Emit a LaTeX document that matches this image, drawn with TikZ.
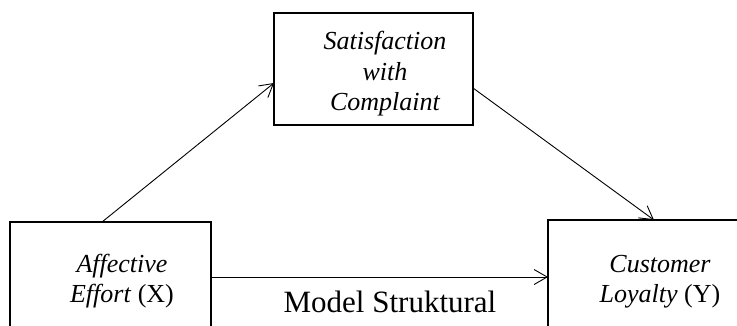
\documentclass[tikz,border=0pt]{standalone}
\usepackage{fontspec}
\setmainfont{Liberation Serif}
\usetikzlibrary{arrows.meta}

\tikzset{
	varbox/.style={draw,line width=1.8pt,inner sep=0pt,outer sep=0pt},
	vartext/.style={font=\fontsize{26}{30.5}\selectfont\itshape,align=center},
	link/.style={-{Straight Barb[length=13pt,width=15pt]},line width=0.9pt}
}

\begin{document}
\begin{tikzpicture}[x=1pt,y=-1pt]
	\useasboundingbox (0,0) rectangle (737,325);
	\clip (0,0) rectangle (737,325);

	\node[varbox,minimum width=199pt,minimum height=112pt] (satis) at (373.5,69) {};
	\node[vartext] (satistext) at (385,74) {Satisfaction\\with\\Complaint};

	
	\node[varbox,minimum width=201pt,minimum height=110pt] (effort) at (110.5,277) {};
	\node[vartext] (efforttext) at (122,281) {Affective\\Effort \textup{(X)}};

	
	\node[varbox,minimum width=212pt,minimum height=114pt] (loyal) at (654,277) {};
	\node[vartext] (loyaltext) at (660,281.5) {Customer\\Loyalty \textup{(Y)}};

	
	\draw[link] ([xshift=-8.5pt]effort.north) -- ([yshift=-14pt]satis.west);
	\draw[link] ([yshift=-19pt]satis.east) -- (loyal.north);
	\draw[link] (effort.east) -- (loyal.west);

	\node[font=\fontsize{31}{36}\selectfont,anchor=base] (model) at (390,312) {Model Struktural};
\end{tikzpicture}
\end{document}
